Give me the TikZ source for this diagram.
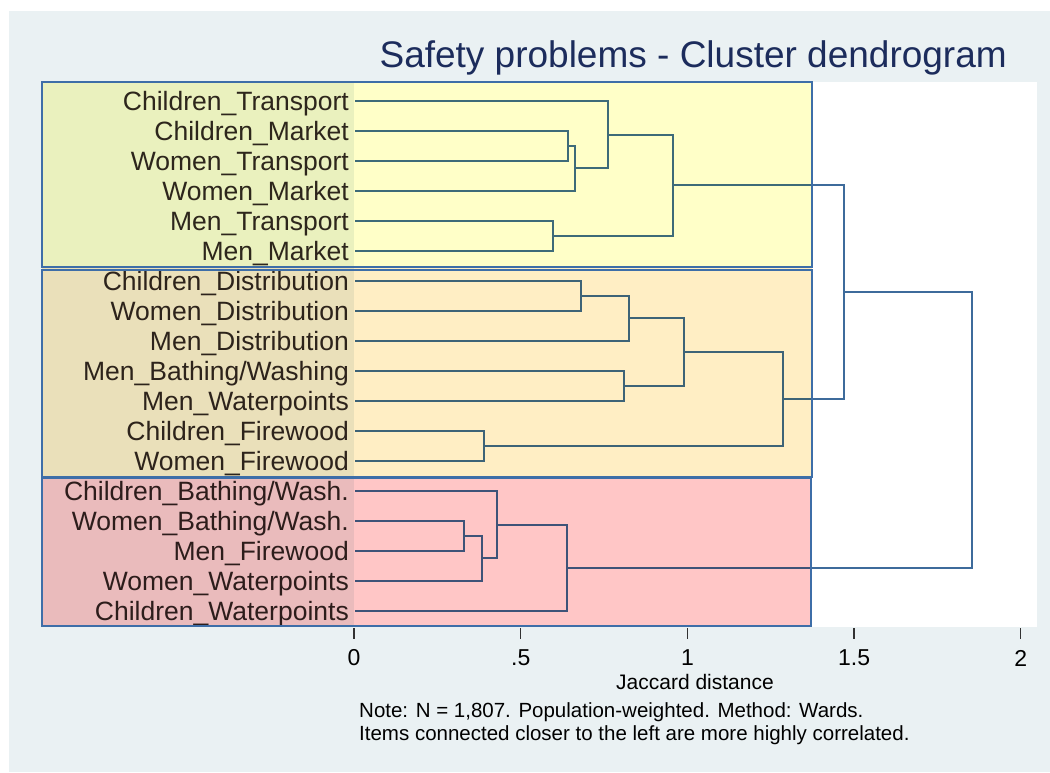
\documentclass[tikz,border=0pt]{standalone}
\usepackage{fontspec}
\setmainfont{Liberation Sans}
\definecolor{bgcol}{RGB}{234,241,243}
\definecolor{boxblue}{RGB}{62,110,168}
\definecolor{linecol}{RGB}{62,107,155}
\definecolor{yelbox}{RGB}{255,255,200}
\definecolor{tanbox}{RGB}{255,238,196}
\definecolor{pinkbox}{RGB}{255,198,198}
\definecolor{textcol}{RGB}{45,38,36}
\definecolor{titlecol}{RGB}{28,44,92}
\definecolor{axiscol}{RGB}{50,50,50}
\tikzset{
  leaf/.style={anchor=east, inner xsep=6pt, inner ysep=0pt, text height=19pt, text depth=0pt,
    text=textcol, font=\fontsize{26.5}{30}\selectfont},
  dline/.style={draw=linecol, line width=2pt, line join=miter},
  grpbox/.style={draw=boxblue, line width=2.2pt},
  ticklab/.style={text=black, font=\fontsize{23}{26}\selectfont, inner sep=0pt},
  notetext/.style={text=black, font=\fontsize{20.5}{22.5}\selectfont, inner sep=0pt, anchor=west, align=left}
}
\begin{document}
\begin{tikzpicture}[x=1pt,y=-1pt]
\useasboundingbox (0,0) rectangle (1050,772);
\fill[white] (0,0) rectangle (1050,772);
\fill[bgcol] (9,11) rectangle (1050,772);
\fill[white] (354,82) rectangle (1037,627);

% title
\node[anchor=east, inner sep=0pt, text=titlecol, font=\fontsize{37}{40}\selectfont] (title) at (1007,58) {Safety problems - Cluster dendrogram};

% leaves
\node[leaf] (l1)  at (355,101) {Children\_Transport};
\node[leaf] (l2)  at (355,131) {Children\_Market};
\node[leaf] (l3)  at (355,161) {Women\_Transport};
\node[leaf] (l4)  at (355,191) {Women\_Market};
\node[leaf] (l5)  at (355,221) {Men\_Transport};
\node[leaf] (l6)  at (355,251) {Men\_Market};
\node[leaf] (l7)  at (355,281) {Children\_Distribution};
\node[leaf] (l8)  at (355,311) {Women\_Distribution};
\node[leaf] (l9)  at (355,341) {Men\_Distribution};
\node[leaf] (l10) at (355,371) {Men\_Bathing/Washing};
\node[leaf] (l11) at (355,401) {Men\_Waterpoints};
\node[leaf] (l12) at (355,431) {Children\_Firewood};
\node[leaf] (l13) at (355,461) {Women\_Firewood};
\node[leaf] (l14) at (355,491) {Children\_Bathing/Wash.};
\node[leaf] (l15) at (355,521) {Women\_Bathing/Wash.};
\node[leaf] (l16) at (355,551) {Men\_Firewood};
\node[leaf] (l17) at (355,581) {Women\_Waterpoints};
\node[leaf] (l18) at (355,611) {Children\_Waterpoints};

% merge points
\coordinate (A) at (568,146);
\coordinate (B) at (575,168);
\coordinate (C) at (608,135);
\coordinate (D) at (553,236);
\coordinate (E) at (673,185);
\coordinate (F) at (581,296);
\coordinate (G) at (629,318);
\coordinate (H) at (624,386);
\coordinate (I) at (684,352);
\coordinate (J) at (484,446);
\coordinate (K) at (783,399);
\coordinate (L) at (464,536);
\coordinate (M) at (482,558);
\coordinate (N) at (497,525);
\coordinate (O) at (567,568);
\coordinate (P) at (844,292);
\coordinate (Q) at (972,430);

% dendrogram
\draw[dline] (l2.east) -| (A) |- (l3.east);
\draw[dline] (A) -| (B) |- (l4.east);
\draw[dline] (l1.east) -| (C) |- (B);
\draw[dline] (l5.east) -| (D) |- (l6.east);
\draw[dline] (C) -| (E) |- (D);
\draw[dline] (l7.east) -| (F) |- (l8.east);
\draw[dline] (F) -| (G) |- (l9.east);
\draw[dline] (l10.east) -| (H) |- (l11.east);
\draw[dline] (G) -| (I) |- (H);
\draw[dline] (l12.east) -| (J) |- (l13.east);
\draw[dline] (I) -| (K) |- (J);
\draw[dline] (l15.east) -| (L) |- (l16.east);
\draw[dline] (L) -| (M) |- (l17.east);
\draw[dline] (l14.east) -| (N) |- (M);
\draw[dline] (N) -| (O) |- (l18.east);
\draw[dline] (E) -| (P) |- (K);
\draw[dline] (P) -| (Q) |- (O);

% group boxes (tinted overlays)
\begin{scope}[blend mode=multiply]
\fill[yelbox] (42,82) rectangle (812,268);
\fill[tanbox] (42,268) rectangle (812,477);
\fill[pinkbox] (42,477) rectangle (812,626);
\end{scope}
\draw[grpbox] (42,82) rectangle (812,267);
\draw[grpbox] (42,270) rectangle (812,477);
\draw[grpbox] (42,478) rectangle (811,626);

% axis ticks
\foreach \v/\lab [count=\i] in {0/0, 0.5/.5, 1/1, 1.5/1.5, 2/2} {
  \draw[axiscol, line width=1.3pt] ({354+333.4*\v},628) -- ({354+333.4*\v},639);
  \node[ticklab] (t\i) at ({354+333.4*\v},658) {\lab};
}
\node[inner sep=0pt, text=black, font=\fontsize{21}{23}\selectfont] (xlab) at (695,682) {Jaccard distance};
\node[notetext] (note) at (359,723.5) {Note: N = 1,807. Population-weighted. Method: Wards.\\Items connected closer to the left are more highly correlated.};
\end{tikzpicture}
\end{document}
